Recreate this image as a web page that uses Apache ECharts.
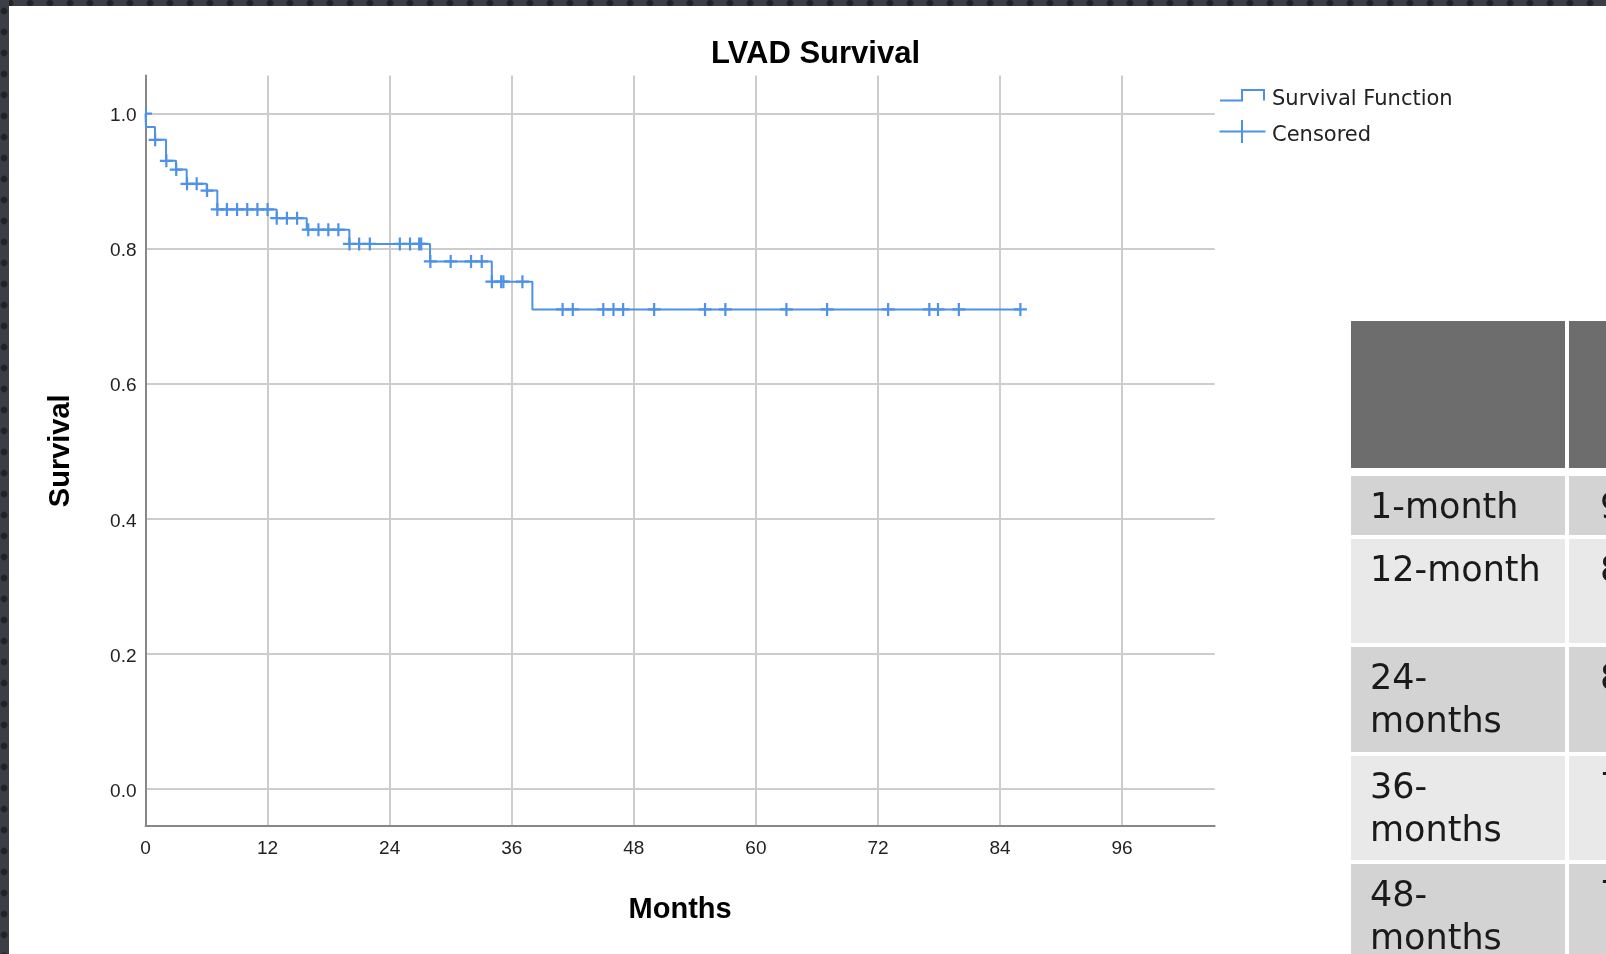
<!DOCTYPE html>
<html>
<head>
<meta charset="utf-8">
<script src="https://cdn.jsdelivr.net/npm/echarts@6.0.0/dist/echarts.min.js"></script>
<style>
  html, body { margin:0; padding:0; width:1606px; height:954px; overflow:hidden; background:#fff; }
  #topstrip { position:absolute; left:0; top:0; width:1606px; height:6px; background-color:#3b3e44;
    background-image:radial-gradient(circle at 10px 3px, #1f2227 0, #1f2227 2.5px, rgba(31,34,39,0) 4px);
    background-size:20px 6px; }
  #leftstrip { position:absolute; left:0; top:0; width:9px; height:954px; background-color:#3b3e44;
    background-image:radial-gradient(circle at 4px 11px, #1f2227 0, #1f2227 2.5px, rgba(31,34,39,0) 4px);
    background-size:9px 21px; }
  #chart { position:absolute; left:0; top:0; width:1606px; height:954px; }
  .cell { position:absolute; box-sizing:border-box; overflow:hidden; white-space:pre;
    font-family:"DejaVu Sans", sans-serif; font-size:35px; line-height:43px; color:#1a1a1a; padding-top:9px; }
</style>
</head>
<body>
<div id="chart"></div>
<div id="topstrip"></div>
<div id="leftstrip"></div>
<div id="table"></div>
<script>
// ---------- data ----------
const curveTimes = [0, 0.05, 0.93, 2.02, 3.0, 4.05, 6.02, 7.06, 12.9, 15.85, 20.04, 27.97, 34.04, 38.03, 86.0];
const curveSurv  = [1.0, 0.980, 0.961, 0.930, 0.917, 0.896, 0.886, 0.858, 0.845, 0.828, 0.807, 0.781, 0.751, 0.710, 0.710];
const censorTimes = [0, 0.95, 2.05, 3.02, 4.08, 5.03, 6.05,
  7.06, 8.0, 9.0, 10.0, 11.0, 12.0,
  12.9, 13.9, 14.9,
  16.0, 17.0, 17.97, 18.96,
  20.05, 21.0, 22.05, 25.0, 26.0, 26.9, 27.1,
  28.0, 30.0, 32.0, 33.05,
  34.05, 34.96, 35.18, 37.05,
  41.0, 42.0, 45.0, 46.0, 46.95, 50.0, 55.0, 57.0, 63.0, 67.0, 73.0, 77.05, 77.9, 79.95, 86.0];
const xTicks = [0, 12, 24, 36, 48, 60, 72, 84, 96];
const yTicks = [0, 0.2, 0.4, 0.6, 0.8, 1.0];
const titleText = 'LVAD Survival';
const xName = 'Months';
const yName = 'Survival';
const legendNames = ['Survival Function', 'Censored'];
const tableRowLabels = ['1-month', '12-month', '24-\nmonths', '36-\nmonths', '48-\nmonths'];
const tableRowValues = ['96%', '86%', '81%', '75%', '71%'];

// ---------- chart ----------
const BLUE = '#4d91e8';
function survAt(t) {
  let s = curveSurv[0];
  for (let i = 0; i < curveTimes.length; i++) { if (curveTimes[i] <= t) s = curveSurv[i]; }
  return s;
}
const chart = echarts.init(document.getElementById('chart'), null, { renderer: 'canvas' });
const labelFont = { fontFamily: 'Liberation Sans', fontSize: 19, color: '#222' };
const nameFont = { fontFamily: 'Liberation Sans', fontSize: 29, fontWeight: 'bold', color: '#000' };
chart.setOption({
  animation: false,
  title: {
    text: titleText, left: 711, top: 39, padding: 0,
    textStyle: { fontFamily: 'Liberation Sans', fontSize: 31, fontWeight: 'bold', color: '#000' }
  },
  grid: { left: 145.5, top: 75.5, right: 391.3, bottom: 128, containLabel: false, outerBoundsMode: 'none' },
  xAxis: {
    type: 'value', min: 0, max: 105.1,
    axisLine: { show: true, onZero: false, lineStyle: { color: '#888', width: 2 } },
    axisTick: { show: false, customValues: xTicks },
    axisLabel: Object.assign({ customValues: xTicks, margin: 13 }, labelFont),
    splitLine: { show: true, lineStyle: { color: '#cdcdcd', width: 2 } },
    name: xName, nameLocation: 'middle', nameGap: 69, nameTextStyle: nameFont, nameMoveOverlap: false
  },
  yAxis: {
    type: 'value', min: -0.0548, max: 1.0563,
    axisLine: { show: true, onZero: false, lineStyle: { color: '#888', width: 2 } },
    axisTick: { show: false, customValues: yTicks },
    axisLabel: Object.assign({
      customValues: yTicks, margin: 9,
      formatter: v => '{v|' + v.toFixed(1) + '}',
      rich: { v: { fontFamily: 'Liberation Sans', fontSize: 19, color: '#222', padding: [5, 0, 0, 0] } }
    }, labelFont),
    splitLine: { show: true, lineStyle: { color: '#cdcdcd', width: 2 } },
    name: yName, nameLocation: 'middle', nameGap: 70, nameTextStyle: nameFont, nameMoveOverlap: false
  },
  series: [
    {
      name: legendNames[0], type: 'line', step: 'end', showSymbol: false, clip: true,
      lineStyle: { color: BLUE, width: 2 }, itemStyle: { color: BLUE },
      data: curveTimes.map((t, i) => [t, curveSurv[i]]), z: 3
    },
    {
      name: legendNames[1], type: 'custom', clip: true, z: 4,
      data: censorTimes.map(t => [t, survAt(t)]),
      renderItem: (params, api) => {
        const p = api.coord([api.value(0), api.value(1)]);
        const h = 6.5;
        return { type: 'group', children: [
          { type: 'line', shape: { x1: p[0] - h, y1: p[1], x2: p[0] + h, y2: p[1] }, style: { stroke: BLUE, lineWidth: 2.2 } },
          { type: 'line', shape: { x1: p[0], y1: p[1] - h, x2: p[0], y2: p[1] + h }, style: { stroke: BLUE, lineWidth: 2.2 } }
        ]};
      }
    }
  ],
  graphic: [
    { type: 'polyline', shape: { points: [[1220, 100.5], [1242, 100.5], [1242, 90], [1264, 90], [1264, 100.5]] },
      style: { stroke: BLUE, lineWidth: 2, fill: null } },
    { type: 'text', x: 1272, y: 100, style: { text: legendNames[0], fontFamily: 'DejaVu Sans', fontSize: 21, fill: '#222', verticalAlign: 'middle', align: 'left' } },
    { type: 'line', shape: { x1: 1219.5, y1: 131.5, x2: 1265.5, y2: 131.5 }, style: { stroke: BLUE, lineWidth: 2 } },
    { type: 'line', shape: { x1: 1242, y1: 120, x2: 1242, y2: 143 }, style: { stroke: BLUE, lineWidth: 2 } },
    { type: 'text', x: 1272, y: 135.5, style: { text: legendNames[1], fontFamily: 'DejaVu Sans', fontSize: 21, fill: '#222', verticalAlign: 'middle', align: 'left' } }
  ]
});

// ---------- table (slide content beside chart) ----------
const tbl = document.getElementById('table');
const rowTops = [476.3, 538.7, 647.3, 755.9, 864.4];
const rowHeights = [58.3, 104.5, 104.5, 104.4, 100];
function addCell(left, top, width, height, bg, text, padLeft) {
  const d = document.createElement('div');
  d.className = 'cell';
  d.style.left = left + 'px'; d.style.top = top + 'px';
  d.style.width = width + 'px'; d.style.height = height + 'px';
  d.style.background = bg; d.style.paddingLeft = padLeft + 'px';
  d.textContent = text;
  tbl.appendChild(d);
}
addCell(1351, 320.6, 214, 147.4, '#6d6d6d', '', 0);
addCell(1569, 320.6, 40, 147.4, '#6d6d6d', '', 0);
tableRowLabels.forEach((lab, i) => {
  const bg = i % 2 === 0 ? '#d3d3d3' : '#e9e9e9';
  addCell(1351, rowTops[i], 214, rowHeights[i], bg, lab, 19);
  addCell(1569, rowTops[i], 40, rowHeights[i], bg, tableRowValues[i], 31);
});
</script>
</body>
</html>
